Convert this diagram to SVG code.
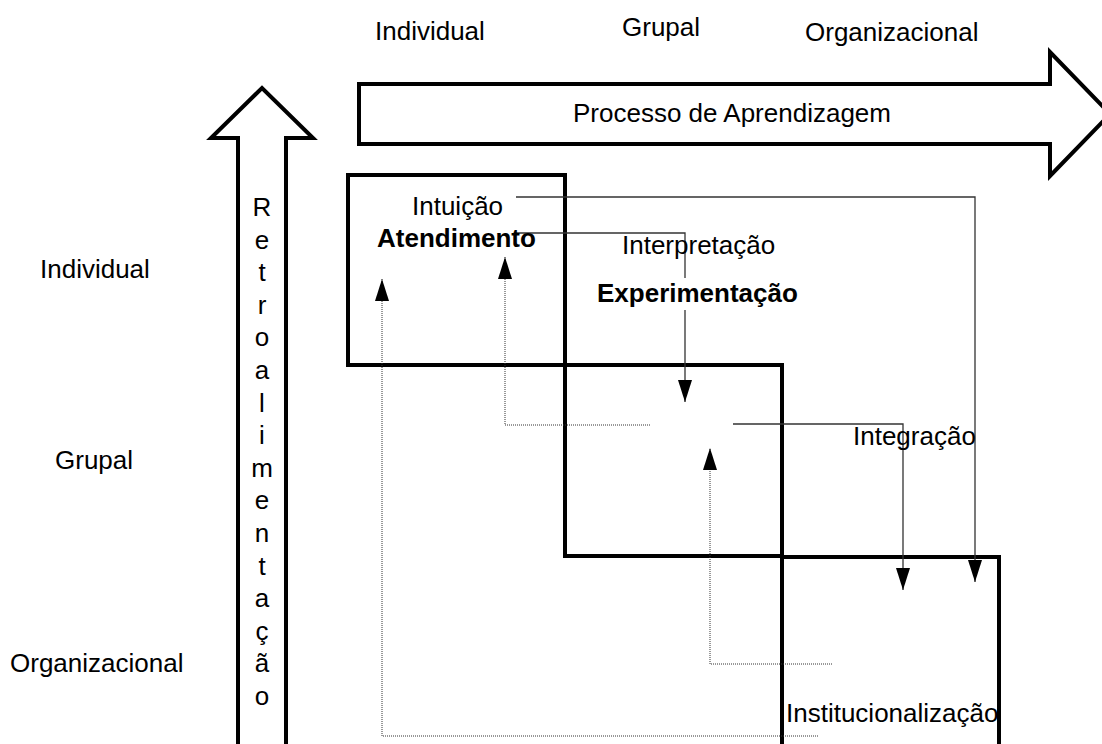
<svg xmlns="http://www.w3.org/2000/svg" width="1102" height="744" viewBox="0 0 1102 744">
  <style>
    text { font-family: "Liberation Sans", Arial, sans-serif; font-size: 26px; fill: #000; }
    .b { font-weight: bold; }
    .frame { fill: none; stroke: #000; stroke-width: 4; }
    .bigarrow { fill: #fff; stroke: #000; stroke-width: 4; stroke-linejoin: miter; }
    .flow { fill: none; stroke: #333; stroke-width: 1.3; }
    .feedback { fill: none; stroke: #333; stroke-width: 1; stroke-dasharray: 1 1; }
  </style>
  <defs>
    <marker id="head" markerUnits="userSpaceOnUse" markerWidth="22" markerHeight="14" refX="22" refY="7" orient="auto">
      <path d="M0,0 L22,7 L0,14 z" fill="#000"/>
    </marker>
  </defs>
  <rect width="1102" height="744" fill="#fff"/>

  <!-- level labels, top -->
  <g id="top-labels">
    <text x="375" y="40">Individual</text>
    <text x="622" y="36">Grupal</text>
    <text x="805" y="41">Organizacional</text>
  </g>

  <!-- level labels, left -->
  <g id="left-labels">
    <text x="40" y="278">Individual</text>
    <text x="55" y="469">Grupal</text>
    <text x="10" y="672">Organizacional</text>
  </g>

  <!-- learning process arrow -->
  <g id="processo">
    <path class="bigarrow" d="M359,84 H1050 V52 L1110,114 L1050,176 V144 H359 Z"/>
    <text x="573" y="122">Processo de Aprendizagem</text>
  </g>

  <!-- feedback arrow -->
  <g id="retroalimentacao">
    <path class="bigarrow" d="M238,750 V138 H211 L262,88 L313,138 H286 V750"/>
    <text x="262" y="216" text-anchor="middle"><tspan x="262">R</tspan><tspan x="262" dy="32.6">e</tspan><tspan x="262" dy="32.6">t</tspan><tspan x="262" dy="32.6">r</tspan><tspan x="262" dy="32.6">o</tspan><tspan x="262" dy="32.6">a</tspan><tspan x="262" dy="32.6">l</tspan><tspan x="262" dy="32.6">i</tspan><tspan x="262" dy="32.6">m</tspan><tspan x="262" dy="32.6">e</tspan><tspan x="262" dy="32.6">n</tspan><tspan x="262" dy="32.6">t</tspan><tspan x="262" dy="32.6">a</tspan><tspan x="262" dy="32.6">ç</tspan><tspan x="262" dy="32.6">ã</tspan><tspan x="262" dy="32.6">o</tspan></text>
  </g>

  <!-- level frames -->
  <g id="frame-individual"><rect class="frame" x="348" y="175" width="217" height="190"/></g>
  <g id="frame-grupal"><rect class="frame" x="565" y="365" width="217" height="191"/></g>
  <g id="frame-organizacional"><rect class="frame" x="782" y="557" width="217" height="200"/></g>

  <!-- connectors -->
  <g id="connectors">
    <path class="flow" d="M516,197 H975 V582" marker-end="url(#head)"/>
    <path class="flow" d="M515,233 H685 V402" marker-end="url(#head)"/>
    <path class="flow" d="M733,424 H903 V590" marker-end="url(#head)"/>
    <path class="feedback" d="M832,664 H710 V448" marker-end="url(#head)"/>
    <path class="feedback" d="M650,425 H505 V257" marker-end="url(#head)"/>
    <path class="feedback" d="M818,736 H382 V279" marker-end="url(#head)"/>
  </g>

  <!-- stage labels -->
  <g id="intuicao">
    <text x="412" y="215">Intuição</text>
    <text class="b" x="377" y="247">Atendimento</text>
  </g>
  <g id="interpretacao">
    <text x="622" y="254">Interpretação</text>
    <rect x="596" y="278" width="204" height="32" fill="#fff"/>
    <text class="b" x="597" y="302">Experimentação</text>
  </g>
  <g id="integracao">
    <text x="853" y="445">Integração</text>
  </g>
  <g id="institucionalizacao">
    <rect x="785" y="697" width="212" height="35" fill="#fff"/>
    <text x="786" y="722">Institucionalização</text>
  </g>
</svg>
